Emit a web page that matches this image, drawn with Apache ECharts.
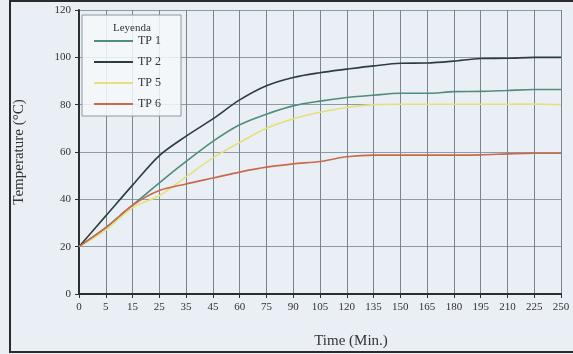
<!DOCTYPE html>
<html>
<head>
<meta charset="utf-8">
<script src="https://cdn.jsdelivr.net/npm/echarts@6/dist/echarts.min.js"></script>
<style>
  html, body { margin: 0; padding: 0; background: #e8eef3; }
  #main { width: 573px; height: 354px; }
</style>
</head>
<body>
<div id="main"></div>
<script>
// minutos (eje x)
const minutes = ['0', '5', '15', '25', '35', '45', '60', '75', '90', '105', '120', '135', '150', '165', '180', '195', '210', '225', '250'];

// temperaturas
const tp1 = [20, 28, 37.5, 47, 56, 64.5, 71.5, 76, 79.5, 81.5, 83, 84, 84.8, 84.8, 85.5, 85.6, 86, 86.4, 86.4];
const tp2 = [20, 33, 46, 58.5, 66.7, 74, 82, 88, 91.5, 93.5, 95, 96.4, 97.5, 97.6, 98.4, 99.5, 99.6, 100, 100];
const tp5 = [20, 27, 36.5, 41.5, 49.5, 57.5, 64, 70, 74, 76.8, 78.8, 80, 80.2, 80.2, 80.2, 80.2, 80.2, 80.3, 80];
const tp6 = [20, 28, 37.5, 43.7, 46.5, 49, 51.5, 53.6, 55, 56, 58, 58.7, 58.7, 58.7, 58.7, 58.8, 59.2, 59.5, 59.5];

const yTicks = [0, 20, 40, 60, 80, 100, 120];

const serif = 'Liberation Serif';

let chart = echarts.init(document.getElementById('main'));

function line(name, values, color, width) {
    return {
        name: name,
        type: 'line',
        data: values,
        symbol: 'none',
        smooth: 0.3,
        lineStyle: { color: color, width: width },
        itemStyle: { color: color }
    };
}

chart.setOption({
    backgroundColor: '#e9eff4',
    animation: false,
    title: {
        text: 'Leyenda',
        left: 108,
        top: 18,
        textStyle: { fontFamily: serif, fontSize: 11, fontWeight: 'normal', color: '#333' }
    },
    legend: {
        orient: 'vertical',
        left: 82,
        top: 15,
        padding: [20, 20, 6, 11],
        itemWidth: 39,
        itemHeight: 14,
        itemGap: 9,
        itemStyle: { opacity: 0 },
        lineStyle: { width: 2 },
        backgroundColor: 'rgba(245,248,250,0.85)',
        borderColor: '#8c9aa2',
        borderWidth: 1,
        borderRadius: 0,
        textStyle: { fontFamily: serif, fontSize: 12, color: '#333' },
        data: ['TP 1', 'TP 2', 'TP 5', 'TP 6']
    },
    grid: { left: 79, right: 12, top: 10, bottom: 60 },
    xAxis: {
        type: 'category',
        data: minutes,
        boundaryGap: false,
        name: 'Time (Min.)',
        nameLocation: 'middle',
        nameGap: 40,
        nameTextStyle: { fontFamily: serif, fontSize: 15, color: '#333', padding: [0, 0, 0, 62] },
        axisLine: { lineStyle: { color: '#2a2f33', width: 2 } },
        axisTick: { show: true, length: 4, lineStyle: { color: '#2a2f33' } },
        axisLabel: { fontFamily: serif, fontSize: 11, color: '#333', margin: 8, interval: 0 },
        splitLine: { show: true, lineStyle: { color: '#76868e', width: 1 } }
    },
    yAxis: {
        type: 'value',
        min: 0,
        max: 120,
        interval: 20,
        name: 'Temperature (°C)',
        nameLocation: 'middle',
        nameGap: 52,
        nameTextStyle: { fontFamily: serif, fontSize: 15, color: '#333' },
        axisLine: { show: true, lineStyle: { color: '#2a2f33', width: 2 } },
        axisTick: { show: true, length: 4, lineStyle: { color: '#2a2f33' } },
        axisLabel: {
            fontFamily: serif, fontSize: 11, color: '#333', margin: 8,
            formatter: v => yTicks.includes(v) ? String(v) : ''
        },
        splitLine: { show: true, lineStyle: { color: '#8d9ba3', width: 1 } }
    },
    graphic: [{
        type: 'rect',
        silent: true,
        shape: { x: 10, y: 1, width: 600, height: 351 },
        style: { fill: 'none', stroke: '#2b2b2b', lineWidth: 2 }
    }],
    series: [
        line('TP 1', tp1, '#4f8d7c', 1.6),
        line('TP 2', tp2, '#2c3d40', 1.6),
        line('TP 5', tp5, '#e6e07c', 1.6),
        line('TP 6', tp6, '#c96a4c', 1.6)
    ]
});
</script>
</body>
</html>
